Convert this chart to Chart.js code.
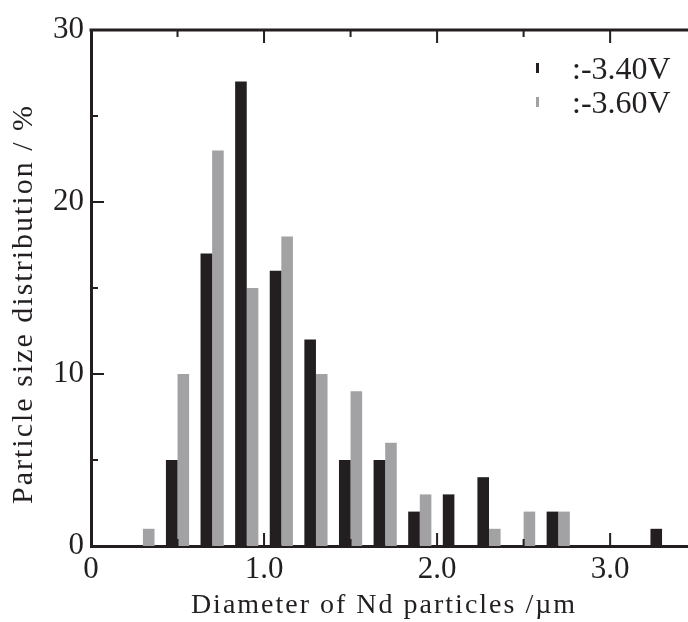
<!DOCTYPE html>
<html>
<head>
<meta charset="utf-8">
<script src="https://cdn.jsdelivr.net/npm/chart.js@4.4.0/dist/chart.umd.min.js"></script>
<style>
  html, body { margin: 0; padding: 0; background: #fff; overflow: hidden; }
  #wrap { width: 688px; height: 622px; }
</style>
</head>
<body>
<div id="wrap"><canvas id="chart"></canvas></div>
<script>
// bin centres (µm) and percentages
const binCenters = [0.3, 0.5, 0.7, 0.9, 1.1, 1.3, 1.5, 1.7, 1.9, 2.1, 2.3, 2.5, 2.7, 2.9, 3.1, 3.3];
const dist340 = [0, 5, 17, 27, 16, 12, 5, 5, 2, 3, 4, 0, 2, 0, 0, 1];
const dist360 = [1, 10, 23, 15, 18, 10, 9, 6, 3, 0, 1, 2, 2, 0, 0, 0];
const seriesLabels = [':-3.40V', ':-3.60V'];
const xTickLabels = { '0': '0', '1': '1.0', '2': '2.0', '3': '3.0' };
const yTickLabels = [0, 10, 20, 30];
const xTitle = 'Diameter of Nd particles /µm';
const yTitle = 'Particle size distribution / %';

const ink = '#231f20';
const grey = '#a2a2a5';
const serif = "'Liberation Serif', 'DejaVu Serif', serif";

const toPoints = vals => vals.map((v, i) => ({ x: binCenters[i], y: v }));

// frame top line, inward tick marks, axis titles and the little legend
const frameTicks = {
  id: 'frameTicks',
  afterDatasetsDraw(chart) {
    const { ctx, chartArea: a, scales: { x, y } } = chart;
    ctx.save();
    ctx.strokeStyle = ink;
    ctx.lineWidth = 3;
    ctx.beginPath();
    ctx.moveTo(a.left - 1.5, a.top);
    ctx.lineTo(a.right, a.top);
    ctx.stroke();

    ctx.lineWidth = 2;
    x.ticks.forEach(t => {
      if (t.value <= 0) return;
      const px = x.getPixelForValue(t.value);
      const major = Math.abs(t.value - Math.round(t.value)) < 1e-6;
      const len = major ? 13 : 7;
      ctx.beginPath();
      ctx.moveTo(px, a.top);
      ctx.lineTo(px, a.top + len);
      ctx.moveTo(px, a.bottom);
      ctx.lineTo(px, a.bottom - len);
      ctx.stroke();
    });
    y.ticks.forEach(t => {
      if (t.value <= 0 || t.value >= 30) return;
      const py = y.getPixelForValue(t.value);
      const len = t.value % 10 === 0 ? 13 : 7;
      ctx.beginPath();
      ctx.moveTo(a.left, py);
      ctx.lineTo(a.left + len, py);
      ctx.stroke();
    });

    // axis titles (the figure's lettering is wider than Liberation Serif)
    ctx.fillStyle = ink;
    ctx.letterSpacing = '2px';
    ctx.font = '28px ' + serif;
    ctx.textAlign = 'center';
    ctx.textBaseline = 'alphabetic';
    ctx.fillText(xTitle, 384, 613);

    ctx.save();
    ctx.translate(24, 304);
    ctx.rotate(-Math.PI / 2);
    ctx.font = '30px ' + serif;
    ctx.textBaseline = 'middle';
    ctx.fillText(yTitle, 0, 0);
    ctx.restore();

    // legend
    ctx.letterSpacing = '0px';
    ctx.font = '32px ' + serif;
    ctx.textBaseline = 'middle';
    ctx.textAlign = 'left';
    chart.data.datasets.forEach((ds, i) => {
      const cy = 71 + i * 34;
      ctx.fillStyle = ds.backgroundColor;
      ctx.fillRect(536, cy - 8, 3, 10);
      ctx.fillStyle = ink;
      ctx.fillText(ds.label, 572, cy);
    });
    ctx.restore();
  }
};

new Chart(document.getElementById('chart'), {
  type: 'bar',
  data: {
    datasets: [
      { label: seriesLabels[0], data: toPoints(dist340), backgroundColor: ink },
      { label: seriesLabels[1], data: toPoints(dist360), backgroundColor: grey }
    ]
  },
  options: {
    responsive: true,
    maintainAspectRatio: false,
    animation: false,
    events: [],
    layout: { autoPadding: false, padding: { top: 30, right: 0, left: 0, bottom: 0 } },
    datasets: { bar: { categoryPercentage: 0.67, barPercentage: 1.0 } },
    plugins: { legend: { display: false }, tooltip: { enabled: false } },
    scales: {
      x: {
        type: 'linear',
        min: 0,
        max: 3.45,
        offset: false,
        grid: { display: false, drawTicks: false },
        border: { display: true, color: ink, width: 3 },
        ticks: {
          stepSize: 0.5,
          includeBounds: false,
          autoSkip: false,
          maxRotation: 0,
          padding: 5,
          color: ink,
          font: { family: serif, size: 31 },
          callback: v => {
            const k = String(Math.round(v * 10) / 10);
            return xTickLabels[k] !== undefined ? xTickLabels[k] : '';
          }
        },
        afterFit: s => { s.height = 76; s.paddingLeft = 0; s.paddingRight = 0; }
      },
      y: {
        min: 0,
        max: 30,
        grid: { display: false, drawTicks: false },
        border: { display: true, color: ink, width: 3 },
        ticks: {
          stepSize: 5,
          padding: 7,
          color: ink,
          font: { family: serif, size: 31 },
          callback: v => yTickLabels.includes(v) ? String(v) : ''
        },
        afterFit: s => { s.width = 91; s.paddingTop = 0; s.paddingBottom = 0; }
      }
    }
  },
  plugins: [frameTicks]
});
</script>
</body>
</html>
